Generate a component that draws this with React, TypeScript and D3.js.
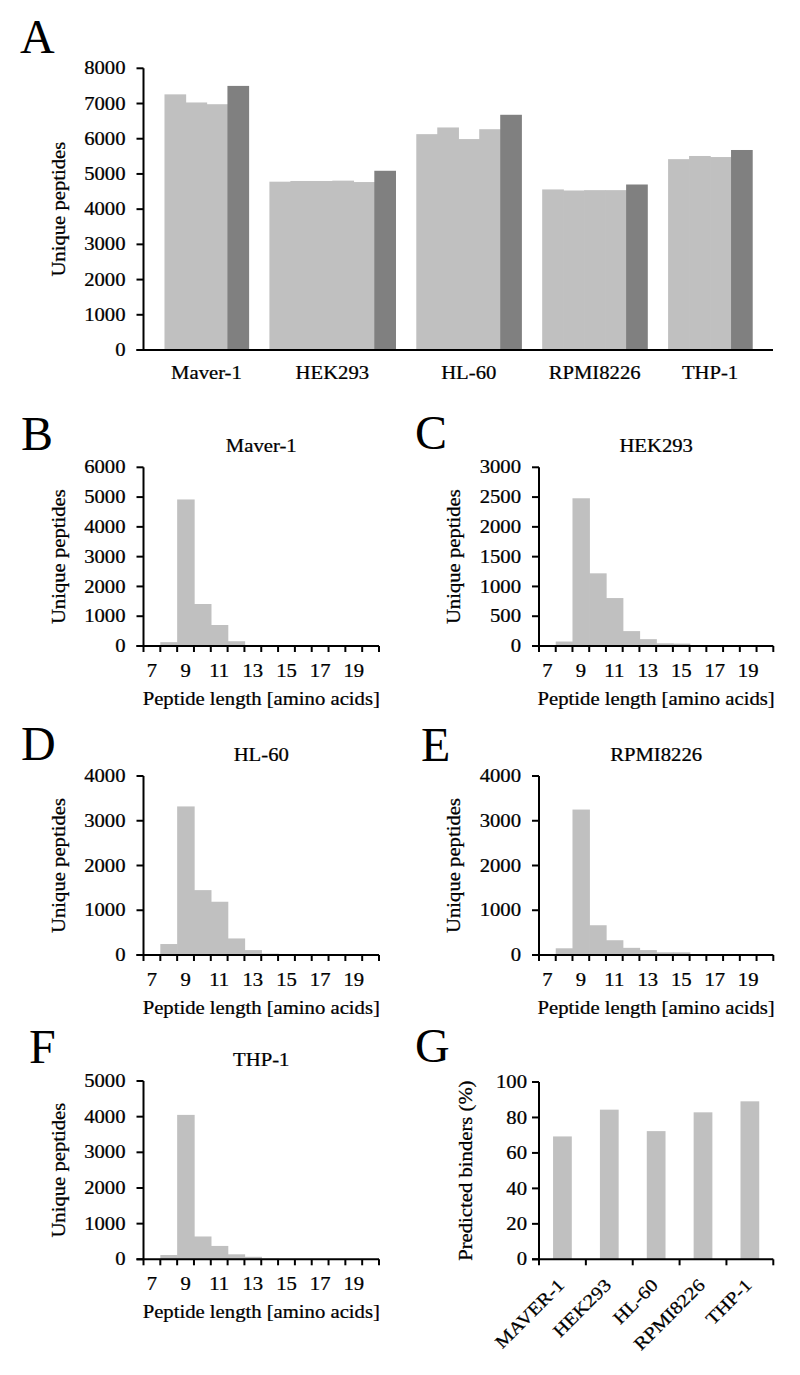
import React from "react";
import * as d3 from "d3";

// ---------- DATA ----------
const cellLines = ["Maver-1", "HEK293", "HL-60", "RPMI8226", "THP-1"];
const replicateCounts = [
  [7260, 7030, 6980],
  [4780, 4800, 4800, 4810, 4770],
  [6130, 6320, 5990, 6270],
  [4560, 4530, 4540, 4540],
  [5420, 5510, 5480],
];
const combinedCounts = [7500, 5090, 6680, 4700, 5680];
const countTicksA = [0, 1000, 2000, 3000, 4000, 5000, 6000, 7000, 8000];

const peptideLengths = [7, 8, 9, 10, 11, 12, 13, 14, 15, 16, 17, 18, 19, 20];
const lengthTickLabels = [7, 9, 11, 13, 15, 17, 19];
const histMaver = [5, 130, 4920, 1410, 705, 160, 35, 15, 10, 5, 5, 5, 5, 5];
const histHEK = [5, 75, 2480, 1220, 805, 250, 115, 45, 40, 15, 10, 5, 5, 5];
const histHL60 = [5, 245, 3320, 1450, 1190, 370, 110, 30, 15, 5, 5, 5, 5, 5];
const histRPMI = [5, 150, 3250, 665, 330, 160, 110, 60, 60, 15, 5, 5, 5, 5];
const histTHP = [5, 120, 4050, 640, 375, 140, 70, 15, 5, 5, 5, 5, 5, 5];
const ticksMaver = [0, 1000, 2000, 3000, 4000, 5000, 6000];
const ticksHEK = [0, 500, 1000, 1500, 2000, 2500, 3000];
const ticksHL60 = [0, 1000, 2000, 3000, 4000];
const ticksRPMI = [0, 1000, 2000, 3000, 4000];
const ticksTHP = [0, 1000, 2000, 3000, 4000, 5000];

const binderLines = ["MAVER-1", "HEK293", "HL-60", "RPMI8226", "THP-1"];
const binderPercent = [69.3, 84.4, 72.3, 82.9, 89.1];
const percentTicks = [0, 20, 40, 60, 80, 100];

// ---------- STYLE ----------
const SX = 1.15;
const FONT = "'Liberation Serif', 'Times New Roman', serif";
const LIGHT = "#c0c0c0";
const DARK = "#808080";
const AXW = 2;

function T({ x, y, children, anchor = "middle", rotate = 0, size = 18, dy }: any) {
  const tr =
    `translate(${x},${y})` + (rotate ? ` rotate(${rotate})` : "") + ` scale(${SX},1)`;
  return (
    <text transform={tr} textAnchor={anchor} fontSize={size} dy={dy} fontFamily={FONT} fill="#000" stroke="#000" strokeWidth={0.25}>
      {children}
    </text>
  );
}

function Letter({ x, y, children }: any) {
  return (
    <text x={x} y={y} fontSize={48} fontFamily={FONT} fill="#000">
      {children}
    </text>
  );
}

function PanelA() {
  const left = 143.5, right = 773, top = 68.3, bottom = 350;
  const bars: { slot: number; v: number; dark: boolean }[] = [];
  const groups: { name: string; start: number; n: number }[] = [];
  let idx = 1;
  cellLines.forEach((name, g) => {
    const start = idx;
    replicateCounts[g].forEach((v) => bars.push({ slot: idx++, v, dark: false }));
    bars.push({ slot: idx++, v: combinedCounts[g], dark: true });
    groups.push({ name, start, n: idx - start });
    idx++;
  });
  const total = idx;
  const x = d3.scaleBand<number>().domain(d3.range(total)).range([left, right]).padding(0);
  const y = d3.scaleLinear().domain([0, 8000]).range([bottom, top]);
  const bw = x.bandwidth();
  return (
    <g>
      <Letter x={20} y={52.7}>A</Letter>
      {bars.map((b, i) => (
        <rect key={i} x={x(b.slot)} y={y(b.v)} width={bw + 0.7} height={bottom - y(b.v)} fill={b.dark ? DARK : LIGHT} />
      ))}
      <line x1={left} x2={left} y1={top} y2={bottom} stroke="#000" strokeWidth={AXW} />
      <line x1={left - 7} x2={right} y1={bottom} y2={bottom} stroke="#000" strokeWidth={AXW} />
      {countTicksA.map((t) => (
        <g key={t}>
          <line x1={left - 7} x2={left} y1={y(t)} y2={y(t)} stroke="#000" strokeWidth={AXW} />
          <T x={left - 18} y={y(t)} anchor="end" dy="0.34em">{t}</T>
        </g>
      ))}
      {groups.map((g) => (
        <T key={g.name} x={(x(g.start) as number) + (g.n * bw) / 2} y={bottom + 29.3}>{g.name}</T>
      ))}
      <T x={65} y={(top + bottom) / 2} rotate={-90}>Unique peptides</T>
    </g>
  );
}

function Hist({ left, right, top, bottom, letter, letterX, letterY, title, values, ticks, ylabX }: any) {
  const x = d3.scaleBand<number>().domain(peptideLengths).range([left, right]).padding(0);
  const y = d3.scaleLinear().domain([0, ticks[ticks.length - 1]]).range([bottom, top]);
  const bw = x.bandwidth();
  const bounds = peptideLengths.map((l) => x(l) as number).concat([right]);
  return (
    <g>
      <Letter x={letterX} y={letterY}>{letter}</Letter>
      <T x={(left + right) / 2} y={top - 15}>{title}</T>
      {peptideLengths.map((l, i) => (
        <rect key={l} x={x(l)} y={y(values[i])} width={bw + 0.7} height={bottom - y(values[i])} fill={LIGHT} />
      ))}
      <line x1={left} x2={left} y1={top} y2={bottom} stroke="#000" strokeWidth={AXW} />
      <line x1={left - 7} x2={right} y1={bottom} y2={bottom} stroke="#000" strokeWidth={AXW} />
      {ticks.map((t: number) => (
        <g key={t}>
          <line x1={left - 7} x2={left} y1={y(t)} y2={y(t)} stroke="#000" strokeWidth={AXW} />
          <T x={left - 18} y={y(t)} anchor="end" dy="0.34em">{t}</T>
        </g>
      ))}
      {bounds.map((b, i) => (
        <line key={i} x1={b} x2={b} y1={bottom} y2={bottom + 6} stroke="#000" strokeWidth={AXW} />
      ))}
      {lengthTickLabels.map((l) => (
        <T key={l} x={(x(l) as number) + bw / 2} y={bottom + 31}>{l}</T>
      ))}
      <T x={(left + right) / 2} y={bottom + 58.5}>Peptide length [amino acids]</T>
      <T x={ylabX} y={(top + bottom) / 2} rotate={-90}>Unique peptides</T>
    </g>
  );
}

function PanelG() {
  const left = 539, right = 773.3, top = 1082, bottom = 1259.3;
  const x = d3.scaleBand<string>().domain(binderLines).range([left, right]).paddingInner(0.6).paddingOuter(0.3);
  const y = d3.scaleLinear().domain([0, 100]).range([bottom, top]);
  const step = x.step();
  const bw = x.bandwidth();
  const bounds = d3.range(binderLines.length + 1).map((i) => left + i * step);
  return (
    <g>
      <Letter x={415} y={1062}>G</Letter>
      {binderLines.map((c, i) => (
        <rect key={c} x={x(c)} y={y(binderPercent[i])} width={bw} height={bottom - y(binderPercent[i])} fill={LIGHT} />
      ))}
      <line x1={left} x2={left} y1={top} y2={bottom} stroke="#000" strokeWidth={AXW} />
      <line x1={left - 7} x2={right} y1={bottom} y2={bottom} stroke="#000" strokeWidth={AXW} />
      {percentTicks.map((t) => (
        <g key={t}>
          <line x1={left - 7} x2={left} y1={y(t)} y2={y(t)} stroke="#000" strokeWidth={AXW} />
          <T x={left - 12} y={y(t)} anchor="end" dy="0.34em">{t}</T>
        </g>
      ))}
      {bounds.map((b, i) => (
        <line key={i} x1={b} x2={b} y1={bottom} y2={bottom + 6} stroke="#000" strokeWidth={AXW} />
      ))}
      {binderLines.map((c) => (
        <T key={c} x={(x(c) as number) + bw / 2 + 3} y={bottom + 27} rotate={-45} anchor="end">{c}</T>
      ))}
      <T x={472} y={(top + bottom) / 2} rotate={-90}>Predicted binders (%)</T>
    </g>
  );
}

export default function App() {
  const L = { left: 143.5, right: 379 };
  const R = { left: 539, right: 773.3 };
  return (
    <svg width={800} height={1375} style={{ position: "absolute", left: 0, top: 0, background: "#fff" }}>
      <rect width={800} height={1375} fill="#fff" />
      <PanelA />
      <Hist {...L} top={467.3} bottom={646} letter="B" letterX={21} letterY={450} title="Maver-1" values={histMaver} ticks={ticksMaver} ylabX={65} />
      <Hist {...R} top={467.3} bottom={646} letter="C" letterX={415} letterY={449} title="HEK293" values={histHEK} ticks={ticksHEK} ylabX={460} />
      <Hist {...L} top={776} bottom={955} letter="D" letterX={21} letterY={760} title="HL-60" values={histHL60} ticks={ticksHL60} ylabX={65} />
      <Hist {...R} top={776} bottom={955} letter="E" letterX={421} letterY={760.5} title="RPMI8226" values={histRPMI} ticks={ticksRPMI} ylabX={460} />
      <Hist {...L} top={1081} bottom={1259.3} letter="F" letterX={29} letterY={1063} title="THP-1" values={histTHP} ticks={ticksTHP} ylabX={65} />
      <PanelG />
    </svg>
  );
}
